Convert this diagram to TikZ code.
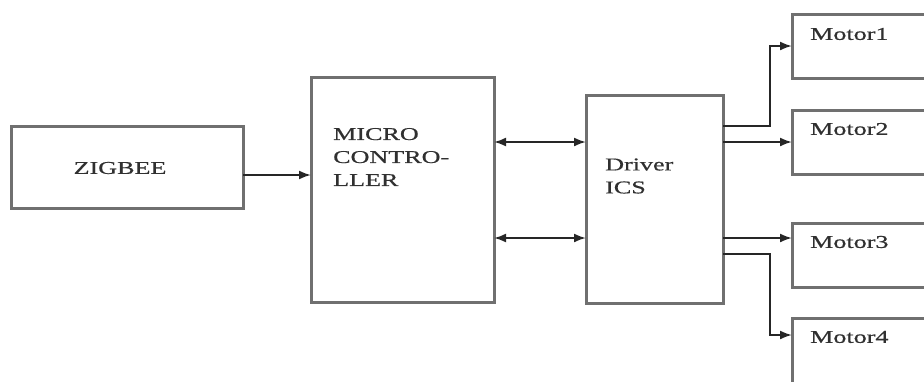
\documentclass[tikz,border=0pt]{standalone}
\usepackage{fontspec}
\newfontfamily\diagfont[FakeStretch=1.45,FakeBold=0.6]{Liberation Serif}
\usetikzlibrary{arrows.meta}
\definecolor{boxgray}{HTML}{707070}
\definecolor{linegray}{HTML}{262626}
\definecolor{txtgray}{HTML}{303030}
\tikzset{
  blk/.style={draw=boxgray, line width=3pt, rectangle, outer sep=0pt, fill=white},
  conn/.style={draw=linegray, line width=2pt, -{Latex[length=12pt,width=9pt]}},
  biconn/.style={draw=linegray, line width=2pt, {Latex[length=12pt,width=9pt]}-{Latex[length=12pt,width=9pt]}},
  lbl/.style={text=txtgray, font=\diagfont\fontsize{18}{23}\selectfont, inner sep=0pt, align=left, anchor=west}
}
\begin{document}
\begin{tikzpicture}[x=1pt,y=-1pt]
\useasboundingbox (0,0) rectangle (924,381);
\clip (0,0) rectangle (924,381);
\fill[white] (0,0) rectangle (924,381);
% blocks
\node[blk, minimum width=232pt, minimum height=82pt] (zig) at (127,167) {};
\node[blk, minimum width=183pt, minimum height=225pt] (mc) at (402.5,189.5) {};
\node[blk, minimum width=137pt, minimum height=208pt] (drv) at (654.5,199) {};
\node[blk, minimum width=148pt, minimum height=64pt] (m1) at (866,46) {};
\node[blk, minimum width=148pt, minimum height=64pt] (m2) at (866,142) {};
\node[blk, minimum width=148pt, minimum height=64pt] (m3) at (866,255) {};
\node[blk, minimum width=148pt, minimum height=65pt] (m4) at (866,350.5) {};
% labels
\node[lbl, anchor=center] (tzig) at (120,168) {ZIGBEE};
\node[lbl] (tmc) at (333,157) {MICRO\\CONTRO-\\LLER};
\node[lbl] (tdrv) at (605,176) {Driver\\ICS};
\node[lbl] (tm1) at (810,34) {Motor1};
\node[lbl] (tm2) at (810,129) {Motor2};
\node[lbl] (tm3) at (810,242) {Motor3};
\node[lbl] (tm4) at (810,337) {Motor4};
% connectors
\draw[conn] ([yshift=-8pt]zig.east) -- ([yshift=14.5pt]mc.west);
\draw[biconn] ([yshift=47.5pt]mc.east) -- ([yshift=57pt]drv.west);
\draw[biconn] ([yshift=-48.5pt]mc.east) -- ([yshift=-39pt]drv.west);
\draw[conn] ([yshift=73pt]drv.east) -- ++(47,0) |- (m1.west);
\draw[conn] (drv.east |- m2.west) -- (m2.west);
\draw[conn] ([yshift=-39pt]drv.east) -- ([yshift=17pt]m3.west);
\draw[conn] ([yshift=-55pt]drv.east) -- ++(47,0) |- ([yshift=15.5pt]m4.west);
\end{tikzpicture}
\end{document}
